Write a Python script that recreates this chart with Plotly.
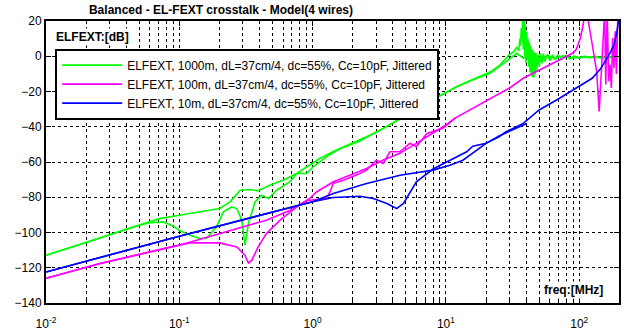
import plotly.graph_objects as go

# ---------------- data (frequency in MHz, level in dB) ----------------
green_model_f = [0.01, 0.019, 0.038, 0.05, 0.072, 0.1, 0.2, 0.24, 0.286, 0.34, 0.39, 0.48, 0.6, 0.76, 0.95,
                 1.13, 1.43, 1.9, 2.54, 3.39, 4.52, 5.5, 7.0, 10, 12, 15.8, 21.4, 28.2, 34, 38, 45, 52, 58, 65,
                 75, 90, 110, 140, 178]
green_model_db = [-112.9, -106.3, -98.7, -95.9, -92, -90.2, -86.4, -82.6, -76, -75.6, -76.4, -73.1, -70.3, -66.5, -61.8,
                  -58, -54, -50, -45.7, -40.9, -35.6, -32, -27, -20.5, -17.3, -13.5, -9.7, -3, 1.7, -1, 0.8, -1.5, 0.6, -1.3,
                  0.2, -1, -0.2, -0.8, -0.6]

green_jit_f = [0.01, 0.038, 0.05, 0.06, 0.076, 0.09, 0.1, 0.12, 0.143, 0.16, 0.19, 0.214, 0.247, 0.27, 0.294,
               0.311, 0.33, 0.37, 0.415, 0.466, 0.537, 0.676, 0.76, 0.9, 1.01, 1.13, 1.3, 1.6, 2.2, 3.0, 4.0, 5.0,
               6.5, 8.5, 11, 14, 18, 22, 25, 27.2, 29.5, 32.4, 33.9, 35.1, 35.9, 36.3, 36.7, 37.2, 37.6, 38.0,
               38.5, 38.9, 39.4, 39.8, 40.3, 40.7, 41.2, 41.7, 42.2, 42.7, 43.2, 43.7, 44.2, 44.7, 45.2, 45.7,
               46.2, 46.8, 47.3, 47.9, 49.0, 50.1, 51.3, 52.5, 53.7, 55.0, 57.5, 60.3, 63.1, 66.1, 69.2, 74.1,
               79.4, 85.1, 91.2, 100, 109.6, 120.2, 131.8, 144.5, 158.5, 177.8]
green_jit_db = [-112.9, -98.7, -95.9, -94.5, -94, -96.4, -98.7, -101.5, -103.4, -103.4, -96.8, -88.3, -85.5, -86.4, -93,
                -107.2, -94.9, -82.6, -78.8, -80.7, -76, -71.2, -66.5, -66.5, -62.7, -59.9, -56.5, -52.5, -48.5, -43.2,
                -38, -33.5, -28.5, -23.5, -18.8, -15, -11.5, -8.5, -5.5, -2.5, 0.5, 2.8, 5, 3, 10, 6, 16, 8, 24, 4,
                24, 0, 18, -4, 14, -2, 10, -6, 8, -9, 6, -11, 4, -12, 3, -12, 2, -10, 2, -8, 1, -6, 1.5, -4, 1.5, -3,
                1, -2.5, 0.8, -2, 0.6, -1.8, 0.4, -1.5, 0.2, -1.2, 0, -1, -0.3, -0.8, -0.5, -0.6]

magenta_model_f = [0.01, 0.0255, 0.1, 0.2, 0.45, 0.7, 0.95, 1.07, 1.43, 1.9, 2.54, 3.39, 4.52, 6.0, 8.0, 10.0,
                   11.7, 16, 21.4, 30, 38, 50, 67.6, 89, 95, 102, 107, 110, 114, 118, 123, 135, 141, 146, 150,
                   155, 158, 162, 166, 170, 174, 178, 182, 186, 190, 195]
magenta_model_db = [-126, -117.6, -107.2, -100.5, -93, -87, -80.7, -77, -71.2, -67.5, -63.7, -58.9, -55.1, -49.4, -43.8, -39,
                    -35.1, -29.5, -24, -18, -12.5, -7.8, -3, 1.7, 4, 10.4, 18, 25, 25, 18, 10.4, -8.5, -31.3, -10, 10,
                    25, -16, 25, -14.2, -4.8, -18, 10.4, -6.6, 14.2, -10, 25]

magenta_jit_f = [0.01, 0.0255, 0.085, 0.12, 0.2, 0.27, 0.31, 0.33, 0.35, 0.39, 0.45, 0.57, 0.76, 0.9, 1.13, 1.27,
                 1.35, 1.43, 1.7, 2.2, 2.54, 3.0, 3.39, 3.8, 4.52, 5.37, 6.0, 7.2, 9.5, 11.7]
magenta_jit_db = [-126, -117.6, -108.3, -105.9, -105.9, -108.2, -112.9, -117.3, -115.7, -108.2, -100.6, -93, -85.5, -82,
                  -81, -80.5, -77, -72, -70.3, -67, -64.6, -59, -60.8, -54.2, -54.2, -49.4, -51.4, -43.8, -40.9, -35.1]

blue_model_f = [0.01, 0.1, 1.0, 1.43, 2.54, 4.52, 8.0, 10.7, 13.4, 17, 20, 25, 28, 38, 50, 67.6, 89, 105, 125,
                145, 160, 172, 182, 190, 197, 200]
blue_model_db = [-122.4, -102.1, -82.6, -77.9, -72.2, -67.5, -64.6, -61.8, -59, -53, -49.4, -45.7, -43, -38.1, -30.5,
                 -24.8, -19.1, -16, -12.5, -7, -1.5, 2.5, 6.5, 12, 20, 25]

blue_jit_f = [0.01, 0.1, 1.0, 1.43, 2.26, 2.85, 3.6, 4.27, 4.8, 6.0, 8.0, 10.7, 14.3, 15.9, 20, 25, 32, 36, 40]
blue_jit_db = [-122.4, -102.1, -82.6, -80.1, -79.4, -80.7, -83.5, -86.4, -83.5, -71.2, -64, -58.9, -54.2, -51,
               -49.4, -45.2, -41.5, -39.5, -38.3]

series_names = ["ELFEXT, 1000m, dL=37cm/4, dc=55%, Cc=10pF, Jittered",
                "ELFEXT, 100m, dL=37cm/4, dc=55%, Cc=10pF, Jittered",
                "ELFEXT, 10m, dL=37cm/4, dc=55%, Cc=10pF, Jittered"]
series_colors = ["#00ff00", "#ff00ff", "#0000ff"]

x_tick_vals = [0.01, 0.1, 1, 10, 100]
x_tick_text = ["10<sup>-2</sup>", "10<sup>-1</sup>", "10<sup>0</sup>", "10<sup>1</sup>", "10<sup>2</sup>"]
y_tick_vals = [20, 0, -20, -40, -60, -80, -100, -120, -140]

# ---------------- figure ----------------
FONT = "Liberation Sans, Arial, sans-serif"
fig = go.Figure()

groups = [
    (green_model_f, green_model_db, green_jit_f, green_jit_db),
    (magenta_model_f, magenta_model_db, magenta_jit_f, magenta_jit_db),
    (blue_model_f, blue_model_db, blue_jit_f, blue_jit_db),
]
for i, (fa, da, fb, db) in enumerate(groups):
    fig.add_trace(go.Scatter(x=fa, y=da, mode="lines", name=series_names[i],
                             line=dict(color=series_colors[i], width=1.6),
                             legendgroup=str(i), showlegend=True))
    fig.add_trace(go.Scatter(x=fb, y=db, mode="lines", name=series_names[i],
                             line=dict(color=series_colors[i], width=1.6),
                             legendgroup=str(i), showlegend=False))

axis_common = dict(showline=True, linecolor="black", linewidth=2, mirror="allticks",
                   ticks="inside", ticklen=5, tickcolor="black", tickwidth=1,
                   showgrid=True, gridcolor="black", gridwidth=1, griddash="dot",
                   zeroline=False, automargin=False,
                   tickfont=dict(family=FONT, size=12, color="black"))

fig.update_xaxes(type="log", range=[-2, 2.298], tickvals=x_tick_vals, ticktext=x_tick_text,
                 ticklabelstandoff=9,
                 minor=dict(dtick="D1", showgrid=True, gridcolor="black", gridwidth=1, griddash="dot",
                            ticks="inside", ticklen=3, tickcolor="black"),
                 **axis_common)
fig.update_yaxes(range=[-140, 20], tickvals=y_tick_vals, **axis_common)

fig.update_layout(
    width=624, height=332,
    margin=dict(l=46, r=5, t=21, b=29),
    paper_bgcolor="white", plot_bgcolor="white",
    font=dict(family=FONT, size=12, color="black"),
    title=dict(text="<b>Balanced - EL-FEXT crosstalk - Model(4 wires)</b>",
               font=dict(family=FONT, size=12, color="black"),
               xref="container", x=221 / 624, xanchor="center",
               yref="container", y=1 - 10 / 332, yanchor="middle"),
    legend=dict(x=0.016, y=0.902, xanchor="left", yanchor="top",
                bgcolor="white", bordercolor="black", borderwidth=2,
                font=dict(family=FONT, size=12, color="black"),
                itemwidth=60, tracegroupgap=0),
    showlegend=True,
)

fig.add_annotation(text="<b>ELFEXT:[dB]</b>", xref="paper", yref="paper", x=0.014, y=0.9435,
                   xanchor="left", yanchor="middle", showarrow=False, bgcolor="white", borderpad=1,
                   font=dict(family=FONT, size=12, color="black"))
fig.add_annotation(text="<b>freq:[MHz]</b>", xref="paper", yref="paper", x=0.976, y=0.045,
                   xanchor="right", yanchor="middle", showarrow=False, bgcolor="white", borderpad=1,
                   font=dict(family=FONT, size=12, color="black"))

fig.write_html("out.html")
